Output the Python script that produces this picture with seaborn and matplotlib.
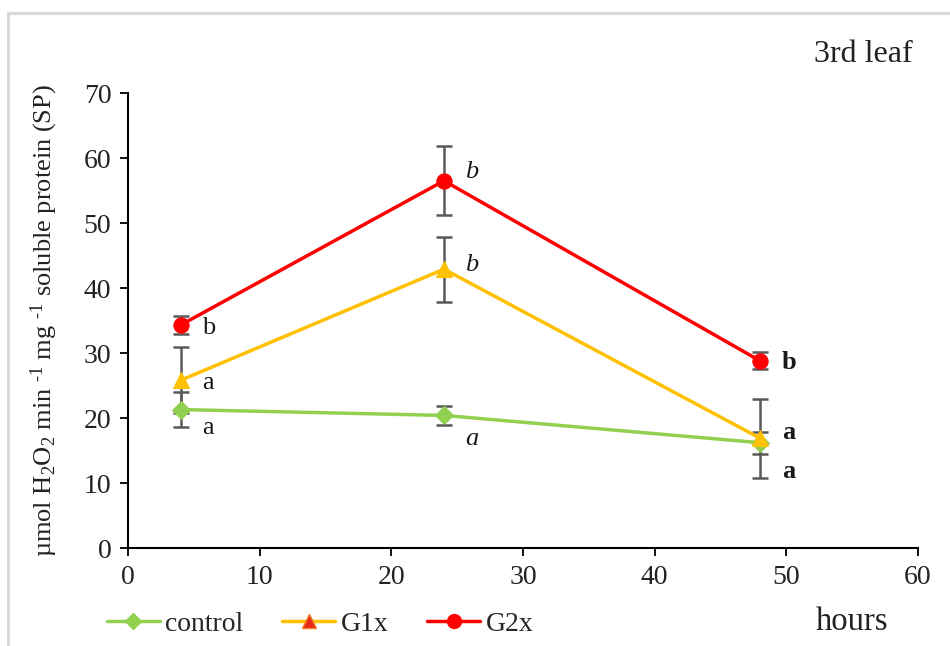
import matplotlib
matplotlib.use("Agg")
import matplotlib.pyplot as plt
from matplotlib.lines import Line2D
from matplotlib.patches import Rectangle
import seaborn as sns
import pandas as pd

# Sampling times (hours) and treatment groups
hours = [4, 24, 48]
groups = ["control", "G1x", "G2x"]

# Mean activity (µmol H2O2 min-1 mg-1 SP) and standard errors per group
control_mean = [21.3, 20.4, 16.2]
control_err = [2.7, 1.4, 1.7]
g1x_mean = [25.8, 42.9, 16.9]
g1x_err = [5.1, 5.0, 6.1]
g2x_mean = [34.3, 56.5, 28.8]
g2x_err = [1.4, 5.3, 1.3]

# Significance letters per group at each time
control_letters = ["a", "a", "a"]
g1x_letters = ["a", "b", "a"]
g2x_letters = ["b", "b", "b"]

means = {"control": control_mean, "G1x": g1x_mean, "G2x": g2x_mean}
errs = {"control": control_err, "G1x": g1x_err, "G2x": g2x_err}
letters = {"control": control_letters, "G1x": g1x_letters, "G2x": g2x_letters}

df = pd.DataFrame(
    [(g, h, m, e) for g in groups for h, m, e in zip(hours, means[g], errs[g])],
    columns=["group", "hours", "activity", "err"],
)

sns.set_theme(style="white")
plt.rcParams["font.family"] = ["Liberation Serif", "DejaVu Serif"]
plt.rcParams["mathtext.fontset"] = "custom"
plt.rcParams["mathtext.rm"] = "Liberation Serif"
plt.rcParams["mathtext.it"] = "Liberation Serif:italic"
plt.rcParams["mathtext.default"] = "regular"

colors = {"control": "#92D050", "G1x": "#FFC000", "G2x": "#FF0000"}
markers = {"control": "D", "G1x": "^", "G2x": "o"}
msizes = {"control": 9, "G1x": 11, "G2x": 11}

fig = plt.figure(figsize=(9.5, 6.46), dpi=100)
ax = fig.add_axes([0.1347, 0.1517, 0.8316, 0.7043])

for g in groups:
    sub = df[df["group"] == g]
    ax.errorbar(sub["hours"], sub["activity"], yerr=sub["err"], fmt="none",
                ecolor="#595959", elinewidth=1.8, capsize=5.5, capthick=1.8, zorder=2)
    sns.lineplot(data=sub, x="hours", y="activity", ax=ax, color=colors[g],
                 marker=markers[g], markersize=msizes[g], markeredgecolor=colors[g],
                 linewidth=2.5, legend=False, zorder=3)

# Letter placement (offset in points from each mean) and style per time point
letter_offsets = {
    "control": [(20, -13), (20, -17), (21, -21)],
    "G1x": [(20, -2), (20, 3), (21, 4)],
    "G2x": [(20, -2), (20, 6.5), (21, -1.5)],
}
time_styles = [dict(style="normal", weight="normal"),
               dict(style="italic", weight="normal"),
               dict(style="normal", weight="bold")]
for g in groups:
    for i, h in enumerate(hours):
        ax.annotate(letters[g][i], (h, means[g][i]), xytext=letter_offsets[g][i],
                    textcoords="offset points", ha="center", va="center",
                    fontsize=19, color="#1a1a1a", **time_styles[i])

ax.set_xlim(0, 60)
ax.set_ylim(0, 70)
ax.set_xticks(range(0, 61, 10))
ax.set_yticks(range(0, 71, 10))
ax.tick_params(axis="both", which="major", labelsize=20, length=6, width=1.3,
               direction="out", colors="#000000", pad=6, bottom=True, left=True)
for lbl in ax.get_xticklabels() + ax.get_yticklabels():
    lbl.set_color("#222222")
sns.despine(ax=ax)
for s in ["left", "bottom"]:
    ax.spines[s].set_color("#000000")
    ax.spines[s].set_linewidth(1.5)

ax.set_xlabel("")
ax.set_ylabel("µmol H$_2$O$_2$ min $^{\u2010 1}$ mg $^{\u2010 1}$ soluble protein (SP)",
              fontsize=19, color="#222222")
ax.yaxis.set_label_coords(-0.086, 0.5)

fig.text(852 / 950, 1 - 622 / 646, "hours", ha="center", va="center",
         fontsize=23.5, color="#222222")
fig.text(863 / 950, 1 - 55 / 646, "3rd leaf", ha="center", va="center",
         fontsize=23, color="#222222")

handles = [
    Line2D([], [], color=colors["control"], marker="D", markersize=8, linewidth=2.5),
    Line2D([], [], color=colors["G1x"], marker="^", markersize=10,
           markerfacecolor="#E8281A", markeredgecolor="#F07A1E", linewidth=2.5),
    Line2D([], [], color=colors["G2x"], marker="o", markersize=10, linewidth=2.5),
]
fig.legend(handles, groups, loc="center left", bbox_to_anchor=(107 / 950, 1 - 624 / 646),
           ncol=3, frameon=False, fontsize=20, handlelength=1.9, handletextpad=0.2,
           columnspacing=1.4, borderaxespad=0, borderpad=0)

# Light grey chart-area frame
fig.add_artist(Rectangle((8 / 950, -0.05), 1.1, 1 - 13.5 / 646 + 0.05,
                         transform=fig.transFigure, fill=False,
                         edgecolor="#D9D9D9", linewidth=2.2))

fig.savefig("out.png", dpi=100)
